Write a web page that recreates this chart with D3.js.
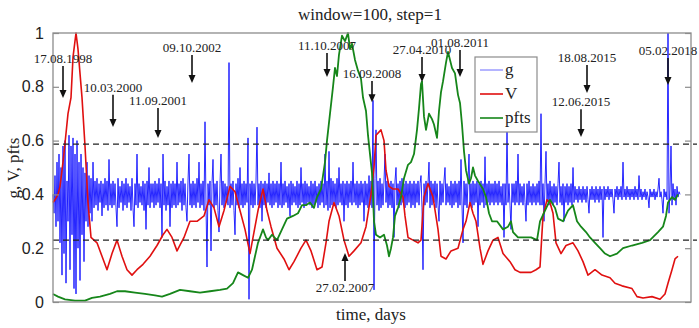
<!DOCTYPE html>
<html><head><meta charset="utf-8">
<script src="https://cdn.jsdelivr.net/npm/d3@7"></script>
<style>body{margin:0;background:#fff}svg{display:block}</style>
</head><body><svg id="c" width="699" height="328"></svg>
<script>
const title = "window=100, step=1";
const xLabel = "time, days";
const yLabel = "g, V, pfts";
const yTicks = [0, 0.2, 0.4, 0.6, 0.8, 1];
const yTickLabels = ["0", "0.2", "0.4", "0.6", "0.8", "1"];
const thresholds = [0.587, 0.23];
const xDomain = [0, 5104];
const legendLabels = ["g", "V", "pfts"];

// g: sampled every gStep days from day 0
const gStep = 8;
const gValues = [
.40,.33,.47,.28,.52,.30,.55,.22,.50,.10,.58,.18,.60,.07,.45,.30,.62,.12,.58,.25,
.61,.05,.55,.03,.60,.20,.52,.08,.55,.25,.50,.15,.48,.30,.52,.28,.47,.33,.46,.30,
.52,.35,.45,.36,.46,.34,.44,.37,.45,.32,.44,.35,.46,.36,.45,.34,.53,.36,.44,.35,
.45,.36,.44,.35,.28,.46,.35,.43,.37,.45,.34,.44,.36,.46,.35,.44,.37,.43,.34,.46,
.35,.28,.44,.36,.55,.35,.44,.37,.43,.36,.45,.34,.44,.27,.45,.36,.50,.35,.44,.37,
.44,.35,.45,.36,.44,.37,.46,.35,.44,.24,.55,.36,.45,.34,.43,.36,.45,.28,.44,.35,
.45,.36,.44,.35,.52,.36,.44,.37,.45,.34,.46,.36,.44,.35,.30,.45,.55,.36,.44,.35,
.45,.36,.44,.35,.46,.37,.52,.35,.44,.36,.45,.34,.67,.36,.13,.44,.36,.45,.19,.44,
.53,.35,.44,.36,.45,.34,.26,.44,.55,.36,.45,.35,.44,.37,.43,.36,.89,.35,.44,.36,
.45,.34,.25,.44,.36,.46,.35,.50,.36,.44,.35,.45,.36,.44,.37,.61,.01,.44,.36,.45,
.35,.44,.36,.45,.65,.36,.44,.35,.45,.30,.44,.36,.45,.35,.44,.37,.48,.36,.44,.35,
.45,.36,.44,.37,.45,.35,.44,.36,.52,.35,.44,.36,.45,.37,.43,.35,.44,.32,.45,.36,
.44,.37,.43,.36,.45,.35,.44,.36,.50,.37,.44,.35,.45,.36,.44,.37,.43,.36,.45,.35,
.44,.36,.45,.37,.43,.35,.44,.36,.45,.37,.44,.35,.55,.36,.45,.34,.56,.35,.46,.36,
.45,.37,.44,.35,.46,.36,.50,.37,.44,.36,.45,.30,.44,.36,.45,.35,.44,.37,.45,.36,
.52,.37,.44,.36,.45,.35,.44,.36,.45,.37,.44,.30,.45,.36,.44,.35,.47,.36,.45,.35,
.75,.045,.46,.64,.36,.45,.34,.46,.35,.44,.36,.45,.55,.37,.45,.35,.44,.36,.45,.35,
.44,.24,.45,.50,.36,.44,.35,.45,.36,.46,.37,.44,.35,.45,.36,.44,.37,.45,.35,.44,
.36,.45,.35,.44,.37,.45,.36,.44,.47,.35,.12,.44,.36,.45,.37,.44,.52,.35,.45,.36,
.44,.37,.45,.35,.44,.36,.30,.45,.36,.44,.37,.45,.50,.36,.44,.37,.43,.36,.45,.35,
.44,.36,.45,.37,.44,.35,.45,.36,.53,.36,.22,.45,.36,.44,.35,.45,.55,.36,.44,.35,
.45,.36,.44,.37,.45,.28,.44,.36,.45,.37,.44,.35,.54,.36,.44,.37,.45,.36,.44,.37,
.44,.36,.45,.37,.44,.36,.45,.37,.43,.36,.44,.24,.44,.36,.65,.37,.44,.36,.27,.44,
.37,.44,.36,.45,.37,.55,.36,.44,.37,.43,.36,.44,.37,.30,.44,.36,.45,.37,.43,.36,
.44,.37,.43,.36,.44,.37,.45,.36,.70,.36,.44,.30,.44,.56,.37,.44,.36,.45,.37,.43,
.36,.44,.37,.43,.36,.44,.52,.37,.43,.36,.44,.30,.43,.37,.44,.36,.43,.37,.44,.36,
.50,.37,.43,.38,.42,.37,.43,.38,.42,.37,.43,.38,.42,.37,.43,.38,.33,.42,.38,.43,
.38,.42,.37,.43,.38,.42,.37,.43,.38,.42,.24,.43,.38,.42,.39,.43,.38,.42,.39,.42,
.38,.33,.42,.39,.43,.38,.42,.39,.43,.38,.52,.39,.42,.38,.43,.39,.42,.38,.42,.39,
.42,.38,.43,.39,.42,.38,.47,.39,.42,.38,.41,.39,.42,.38,.41,.39,.35,.42,.39,.41,
.39,.42,.38,.41,.39,.42,.46,.39,.41,.38,.33,.42,.39,.41,.38,1.0,.33,.42,.58,.36,
.44,.38,.42,.36,.43,.39,.41,.40
];

const vDays = [0,16,40,56,80,96,120,144,160,184,
200,232,256,280,304,352,392,432,472,512,
552,592,632,672,720,776,832,880,912,952,
992,1048,1096,1152,1208,1248,1288,1328,1368,1416,
1456,1496,1536,1576,1608,1640,1680,1712,1744,1792,
1848,1888,1928,1984,2024,2064,2112,2152,2184,2208,
2248,2288,2328,2368,2408,2464,2504,2544,2568,2584,
2624,2648,2664,2688,2720,2760,2800,2816,2840,2880,
2920,2944,2968,3000,3040,3080,3104,3144,3184,3240,
3280,3304,3336,3360,3384,3416,3440,3480,3520,3560,
3600,3656,3696,3736,3784,3824,3864,3896,3920,3952,
3976,4000,4024,4064,4104,4160,4200,4240,4280,4336,
4392,4456,4496,4552,4632,4672,4720,4792,4856,4896,
4920,4952,4976,5000];
const vValues = [.37,.38,.40,.43,.52,.59,.70,.76,.91,1.0,
.94,.76,.58,.37,.24,.22,.17,.12,.18,.23,
.17,.12,.10,.12,.14,.17,.21,.25,.27,.24,
.19,.24,.30,.30,.32,.38,.35,.28,.34,.43,
.41,.34,.27,.18,.26,.34,.42,.34,.28,.20,
.16,.12,.15,.20,.23,.19,.12,.13,.22,.30,
.37,.32,.23,.17,.19,.22,.28,.40,.50,.62,
.64,.60,.49,.43,.42,.42,.39,.32,.24,.23,
.22,.23,.39,.44,.39,.27,.17,.16,.19,.20,
.27,.30,.37,.33,.30,.20,.14,.19,.23,.24,
.18,.15,.12,.11,.11,.11,.12,.13,.32,.38,
.37,.33,.22,.18,.21,.22,.19,.15,.10,.12,
.10,.09,.07,.06,.05,.02,.015,.02,.01,.03,
.07,.12,.16,.17];

const pDays = [0,40,96,176,256,312,376,456,512,576,
656,736,816,872,936,1016,1096,1176,1256,1336,
1392,1440,1480,1520,1560,1592,1616,1640,1656,1680,
1704,1720,1752,1792,1832,1872,1920,1960,1992,2024,
2056,2088,2112,2144,2160,2176,2192,2216,2240,2256,
2272,2288,2312,2336,2360,2376,2392,2416,2440,2464,
2480,2504,2520,2536,2552,2568,2584,2616,2648,2672,
2688,2704,2720,2736,2760,2784,2808,2840,2864,2888,
2912,2928,2944,2952,2968,2984,3008,3032,3048,3072,
3088,3104,3120,3144,3160,3176,3192,3216,3240,3256,
3272,3288,3304,3328,3344,3360,3376,3400,3440,3464,
3488,3512,3552,3600,3640,3664,3680,3720,3776,3824,
3872,3896,3936,3976,4016,4040,4080,4120,4160,4192,
4224,4264,4296,4336,4376,4416,4456,4512,4560,4632,
4712,4776,4840,4880,4904,4920,4952,4976,5000];
const pValues = [.03,.02,.01,.005,.005,.015,.02,.03,.04,.04,
.035,.03,.025,.02,.03,.045,.04,.035,.04,.045,
.05,.07,.11,.10,.09,.12,.17,.22,.24,.27,
.24,.23,.25,.23,.27,.31,.32,.33,.36,.36,
.37,.35,.39,.42,.47,.52,.60,.70,.80,.87,
.84,.92,.99,.97,1.0,.94,.96,.90,.86,.83,
.76,.71,.62,.55,.48,.30,.25,.24,.25,.21,
.17,.20,.24,.32,.35,.39,.46,.51,.52,.55,
.64,.72,.81,.82,.69,.64,.70,.68,.66,.61,
.71,.78,.82,.89,.93,.90,.87,.85,.77,.74,
.66,.56,.49,.44,.46,.50,.47,.45,.42,.39,
.33,.30,.30,.27,.28,.30,.26,.24,.24,.24,
.23,.30,.34,.38,.35,.31,.30,.34,.36,.30,
.28,.26,.24,.22,.20,.18,.17,.18,.20,.21,
.22,.23,.26,.28,.32,.37,.39,.38,.40];

// annotations: label, day, arrow tail value, arrow tip value
const annLabels = ["17.08.1998","10.03.2000","11.09.2001","09.10.2002","11.10.2007","16.09.2008",
  "27.04.2010","01.08.2011","18.08.2015","12.06.2015","05.02.2018","27.02.2007"];
const annDays = [80,480,840,1112,2192,2552,2952,3256,4272,4224,4920,2336];
const annTail = [0.877,0.770,0.721,0.918,0.926,0.822,0.911,0.937,0.881,0.717,0.907,0.078];
const annTip  = [0.758,0.651,0.610,0.814,0.836,0.743,0.818,0.836,0.777,0.613,0.807,0.182];

const svg = d3.select("#c");
const W = 699, H = 328;
const m = {left: 53, right: 8, top: 33, bottom: 26};
const x = d3.scaleLinear().domain(xDomain).range([m.left, W - m.right]);
const y = d3.scaleLinear().domain([0, 1]).range([H - m.bottom, m.top]);

svg.append("rect").attr("width", W).attr("height", H).attr("fill", "#fff");

const serif = "'Liberation Serif', 'Times New Roman', serif";
const sans = "'Liberation Sans', Arial, sans-serif";

// series
const gData = gValues.map((v, i) => [i * gStep, v]);
const vData = d3.zip(vDays, vValues);
const pData = d3.zip(pDays, pValues);
const line = d3.line().x(d => x(d[0])).y(d => y(d[1]));

const plot = svg.append("g");
plot.append("path").datum(gData).attr("d", line).attr("fill", "none")
  .attr("stroke", "#1010ff").attr("stroke-width", 0.9).attr("stroke-linejoin", "round");
plot.append("path").datum(vData).attr("d", line).attr("fill", "none")
  .attr("stroke", "#e01010").attr("stroke-width", 1.6).attr("stroke-linejoin", "round");
plot.append("path").datum(pData).attr("d", line).attr("fill", "none")
  .attr("stroke", "#16861a").attr("stroke-width", 1.8).attr("stroke-linejoin", "round");

// dashed thresholds
thresholds.forEach(t => {
  svg.append("line").attr("x1", x(xDomain[0])).attr("x2", x(xDomain[1]) + 6)
    .attr("y1", y(t)).attr("y2", y(t))
    .attr("stroke", "#222").attr("stroke-width", 1.4).attr("stroke-dasharray", "6,4");
});

// box
svg.append("rect").attr("x", x(xDomain[0])).attr("y", y(1))
  .attr("width", x(xDomain[1]) - x(xDomain[0])).attr("height", y(0) - y(1))
  .attr("fill", "none").attr("stroke", "#8c8c8c").attr("stroke-width", 1.3);

// y axis left (inward ticks) and right ticks
const yAxis = d3.axisLeft(y).tickValues(yTicks).tickSize(-6).tickPadding(9)
  .tickFormat((d, i) => yTickLabels[i]);
const ga = svg.append("g").attr("transform", `translate(${x(xDomain[0])},0)`).call(yAxis);
ga.select(".domain").remove();
ga.selectAll("line").attr("stroke", "#8c8c8c").attr("stroke-width", 1.2);
ga.selectAll("text").attr("font-family", sans).attr("font-size", 16).attr("fill", "#222");
const yAxisR = d3.axisRight(y).tickValues(yTicks).tickSize(-6).tickFormat("");
const gr = svg.append("g").attr("transform", `translate(${x(xDomain[1])},0)`).call(yAxisR);
gr.select(".domain").remove();
gr.selectAll("line").attr("stroke", "#8c8c8c").attr("stroke-width", 1.2);

// annotations
annLabels.forEach((lab, i) => {
  const ax = x(annDays[i]), yt = y(annTail[i]), yp = y(annTip[i]);
  const dir = yp > yt ? 1 : -1;
  svg.append("line").attr("x1", ax).attr("x2", ax).attr("y1", yt).attr("y2", yp - dir * 6)
    .attr("stroke", "#111").attr("stroke-width", 1.6);
  svg.append("path").attr("d", `M${ax - 3.5},${yp - dir * 8} L${ax + 3.5},${yp - dir * 8} L${ax},${yp} Z`)
    .attr("fill", "#111");
  svg.append("text").attr("x", ax).attr("y", dir > 0 ? yt - 3 : yt + 11)
    .attr("text-anchor", "middle").attr("font-family", serif).attr("font-size", 13)
    .attr("fill", "#222").text(lab);
});

// legend
const lg = svg.append("g").attr("transform", `translate(${x(xDomain[0]) + 422},${y(1) + 24})`);
lg.append("rect").attr("x", 0).attr("y", 0).attr("width", 62).attr("height", 75)
  .attr("fill", "#fff").attr("stroke", "#8c8c8c").attr("stroke-width", 1.2);
const legColors = ["#6b6bff", "#e01010", "#16861a"];
legendLabels.forEach((lab, i) => {
  const yy = 13 + i * 24;
  lg.append("line").attr("x1", 5).attr("x2", 28).attr("y1", yy).attr("y2", yy)
    .attr("stroke", legColors[i]).attr("stroke-width", i === 0 ? 1 : 1.6);
  lg.append("text").attr("x", 30).attr("y", yy + 5).attr("font-family", serif)
    .attr("font-size", 17).attr("fill", "#222").text(lab);
});

// title and labels
svg.append("text").attr("x", 370).attr("y", 20).attr("text-anchor", "middle")
  .attr("font-family", serif).attr("font-size", 17).attr("fill", "#222").text(title);
svg.append("text").attr("x", 371).attr("y", 320).attr("text-anchor", "middle")
  .attr("font-family", serif).attr("font-size", 17).attr("fill", "#222").text(xLabel);
svg.append("text").attr("transform", "translate(19,168) rotate(-90)").attr("text-anchor", "middle")
  .attr("font-family", serif).attr("font-size", 17).attr("fill", "#222").text(yLabel);
</script></body></html>
